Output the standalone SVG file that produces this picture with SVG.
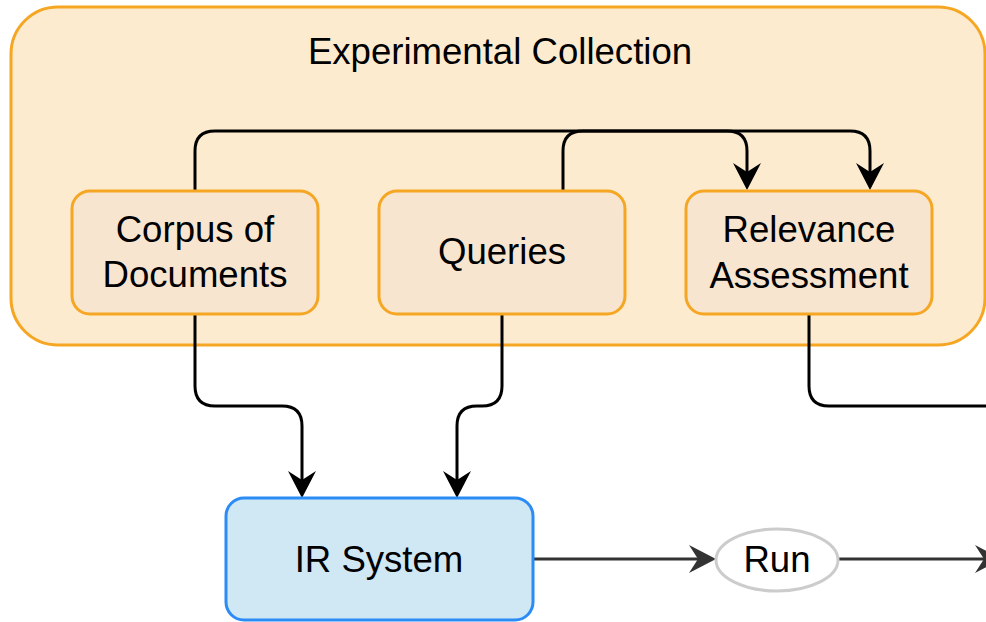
<svg xmlns="http://www.w3.org/2000/svg" width="986" height="622" viewBox="0 0 986 622">
  <defs>
    <style>
      .label { font-family: "Liberation Sans", Arial, Helvetica, sans-serif; font-size: 36.6px; fill: #000000; text-anchor: middle; }
      .collection { fill: #fdebcf; stroke: #f5a623; stroke-width: 3; }
      .item { fill: #f8e5d0; stroke: #f5a623; stroke-width: 3; }
      .system { fill: #d0e7f4; stroke: #2b8cf5; stroke-width: 3; }
      .run { fill: #ffffff; stroke: #cccccc; stroke-width: 3; }
      .edge { fill: none; stroke: #000000; stroke-width: 3; }
      .edge-grey { fill: none; stroke: #333333; stroke-width: 3; }
    </style>
    <marker id="arrow" markerUnits="userSpaceOnUse" markerWidth="30" markerHeight="30" refX="9" refY="14" orient="auto" overflow="visible">
      <path d="M27,14 L0,0 L9,14 L0,28 Z" fill="#000000"/>
    </marker>
    <marker id="arrow-grey" markerUnits="userSpaceOnUse" markerWidth="30" markerHeight="30" refX="9" refY="14" orient="auto" overflow="visible">
      <path d="M27,14 L0,0 L9,14 L0,28 Z" fill="#333333"/>
    </marker>
  </defs>

  <!-- container -->
  <g id="experimental-collection">
    <rect class="collection" x="11" y="7" width="974" height="338" rx="47" ry="47"/>
    <text class="label" x="500" y="64">Experimental Collection</text>
  </g>

  <!-- connectors -->
  <g id="connectors">
    <path class="edge" d="M195,191 V151 Q195,131 215,131 H850 Q870,131 870,151 V172" marker-end="url(#arrow)"/>
    <path class="edge" d="M563,191 V151 Q563,131 583,131 H727 Q747,131 747,151 V172" marker-end="url(#arrow)"/>
    <path class="edge" d="M195,314 V386 Q195,406 215,406 H282 Q302,406 302,426 V480" marker-end="url(#arrow)"/>
    <path class="edge" d="M502,314 V386 Q502,406 482,406 H477 Q457,406 457,426 V480" marker-end="url(#arrow)"/>
    <path class="edge" d="M809,314 V386 Q809,406 829,406 H990"/>
    <path class="edge-grey" d="M533,559 H698" marker-end="url(#arrow-grey)"/>
    <path class="edge-grey" d="M838,559 H984" marker-end="url(#arrow-grey)"/>
  </g>

  <g id="corpus">
    <rect class="item" x="72" y="191" width="246" height="123" rx="18" ry="18"/>
    <text class="label" x="195" y="242">Corpus of</text>
    <text class="label" x="195" y="287">Documents</text>
  </g>

  <g id="queries">
    <rect class="item" x="379" y="191" width="246" height="123" rx="18" ry="18"/>
    <text class="label" x="502" y="264">Queries</text>
  </g>

  <g id="relevance">
    <rect class="item" x="686" y="191" width="246" height="123" rx="18" ry="18"/>
    <text class="label" x="809" y="242">Relevance</text>
    <text class="label" x="809" y="288">Assessment</text>
  </g>

  <g id="ir-system">
    <rect class="system" x="226" y="498" width="307" height="122" rx="18" ry="18"/>
    <text class="label" x="379" y="572">IR System</text>
  </g>

  <g id="run">
    <ellipse class="run" cx="777" cy="560" rx="61" ry="31"/>
    <text class="label" x="777" y="572">Run</text>
  </g>
</svg>
